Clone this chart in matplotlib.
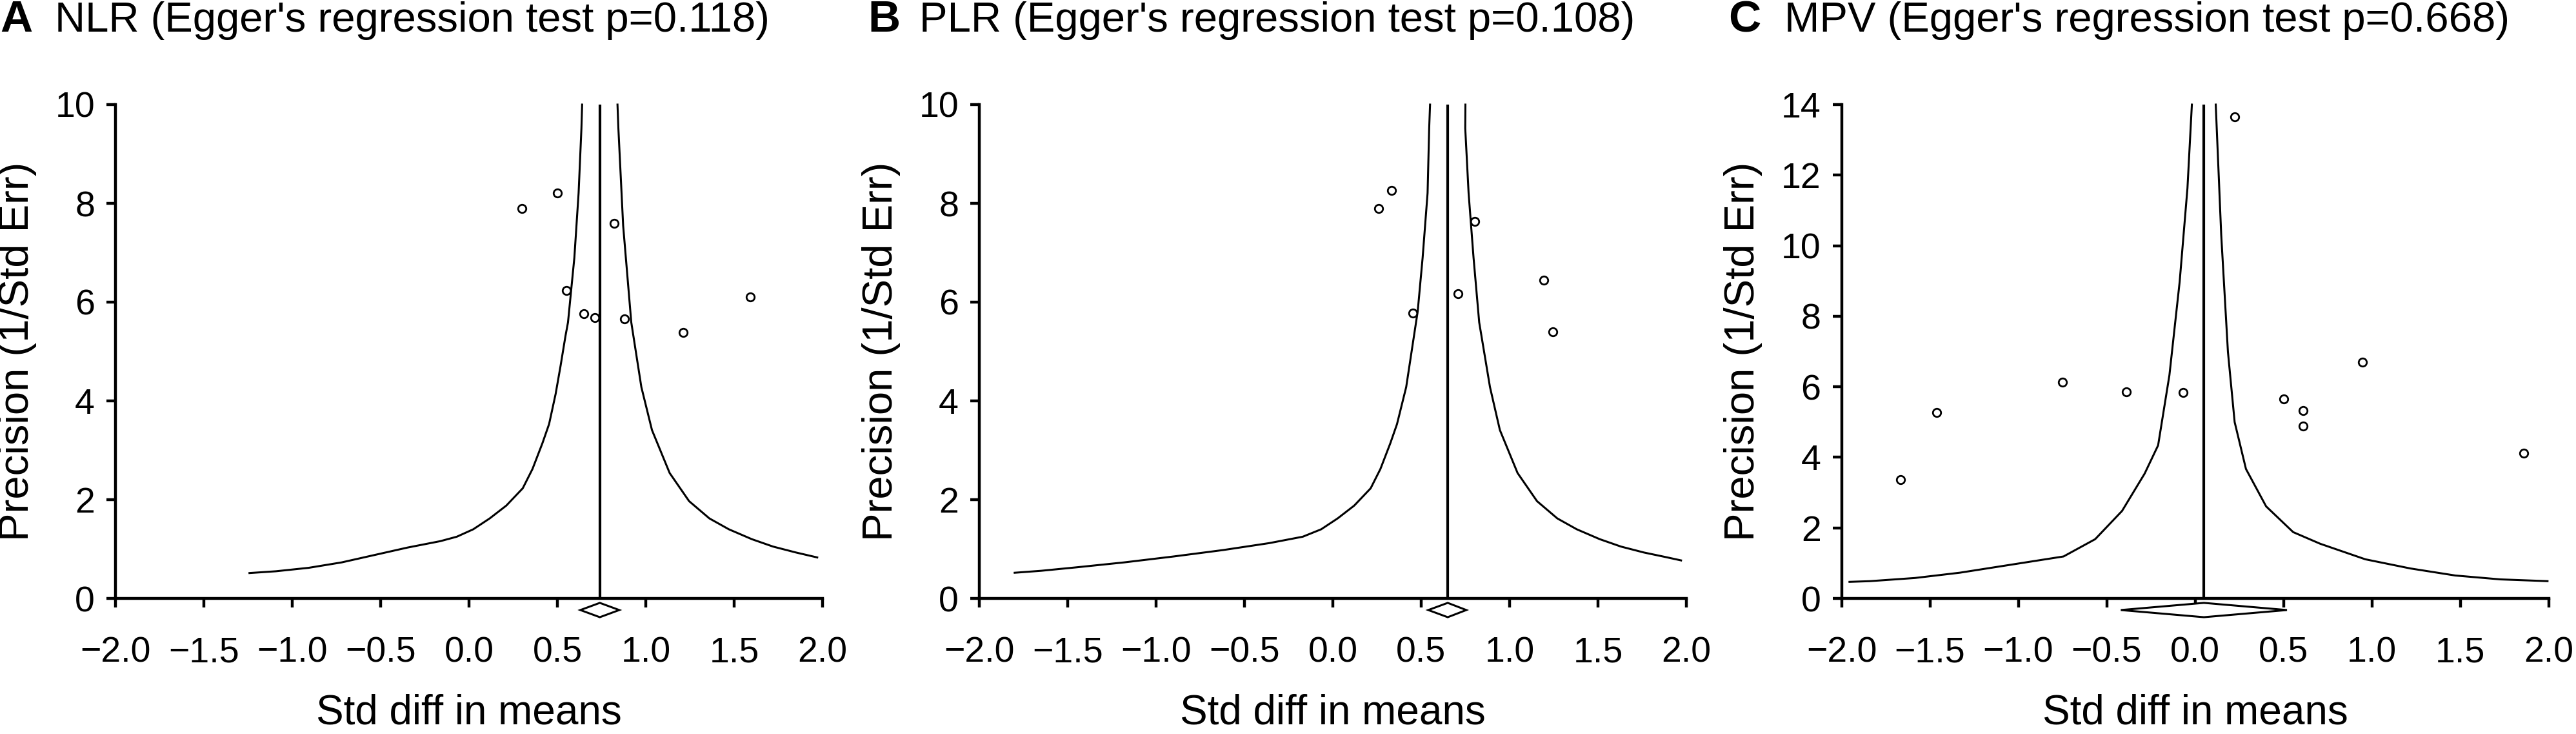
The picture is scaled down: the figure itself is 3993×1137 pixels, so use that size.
import numpy as np
import matplotlib
matplotlib.use("Agg")
import matplotlib.pyplot as plt
from matplotlib.patches import Polygon
from matplotlib.ticker import FuncFormatter

plt.rcParams['font.family'] = ['Liberation Sans', 'DejaVu Sans']

# A: NLR
nlr_x = [0.30, 0.50, 0.82, 0.55, 0.65, 0.71, 0.88, 1.21, 1.59]
nlr_y = [7.89, 8.21, 7.60, 6.24, 5.76, 5.69, 5.66, 5.39, 6.11]
nlr_pooled = [0.63, 0.74, 0.85]  # lower, estimate, upper
nlr_left_x = [0.64, 0.636, 0.620, 0.596, 0.560, 0.546, 0.518, 0.490, 0.453, 0.415, 0.359, 0.304,
              0.211, 0.117, 0.024, -0.069, -0.162, -0.348, -0.534, -0.720, -0.907, -1.093, -1.242]
nlr_left_y = [10.0, 9.52, 8.21, 6.90, 5.59, 5.32, 4.71, 4.14, 3.53, 3.14, 2.62, 2.23,
              1.88, 1.62, 1.40, 1.25, 1.16, 1.03, 0.88, 0.73, 0.62, 0.55, 0.514]
nlr_right_x = [0.84, 0.845, 0.872, 0.918, 0.975, 1.035, 1.135, 1.245, 1.36, 1.47, 1.60, 1.72, 1.85, 1.97]
nlr_right_y = [10.0, 9.52, 7.55, 5.59, 4.28, 3.41, 2.54, 1.97, 1.62, 1.40, 1.20, 1.05, 0.93, 0.83]

# B: PLR
plr_x = [0.331, 0.258, 0.802, 1.193, 0.709, 0.454, 1.243]
plr_y = [8.26, 7.89, 7.63, 6.44, 6.17, 5.78, 5.40]
plr_pooled = [0.54, 0.65, 0.755]
plr_left_x = [0.55, 0.545, 0.536, 0.508, 0.480, 0.415, 0.363, 0.325, 0.269, 0.214, 0.121, 0.027,
              -0.066, -0.17, -0.36, -0.62, -0.90, -1.18, -1.45, -1.65, -1.80]
plr_left_y = [10.0, 9.52, 8.21, 6.90, 5.81, 4.28, 3.53, 3.14, 2.62, 2.23,
              1.88, 1.62, 1.40, 1.25, 1.12, 0.98, 0.85, 0.73, 0.63, 0.56, 0.52]
plr_right_x = [0.75, 0.749, 0.768, 0.796, 0.828, 0.889, 0.945, 1.045, 1.155, 1.27, 1.38, 1.51, 1.63, 1.76, 1.88, 1.97]
plr_right_y = [10.0, 9.52, 8.21, 6.90, 5.59, 4.28, 3.41, 2.54, 1.97, 1.62, 1.40, 1.20, 1.05, 0.93, 0.84, 0.77]

# C: MPV
mpv_x = [0.224, -1.666, -1.462, -0.751, -0.387, -0.069, 0.502, 0.611, 0.611, 0.948, 1.859]
mpv_y = [13.66, 3.37, 5.27, 6.13, 5.86, 5.84, 5.65, 5.33, 4.88, 6.70, 4.11]
mpv_pooled = [-0.42, 0.05, 0.52]
mpv_left_x = [-0.018, -0.043, -0.087, -0.145, -0.209, -0.285, -0.413, -0.565, -0.744,
              -1.075, -1.33, -1.584, -1.839, -1.955]
mpv_left_y = [14.0, 11.63, 8.98, 6.33, 4.34, 3.54, 2.48, 1.68, 1.19,
              0.93, 0.73, 0.58, 0.49, 0.47]
mpv_right_x = [0.117, 0.148, 0.186, 0.224, 0.288, 0.402, 0.555, 0.708, 0.963, 1.218, 1.472, 1.727, 1.994]
mpv_right_y = [14.0, 10.31, 6.99, 5.0, 3.67, 2.61, 1.88, 1.55, 1.11, 0.85, 0.65, 0.54, 0.49]

letters = ['A', 'B', 'C']
titles = ["NLR (Egger's regression test p=0.118)",
          "PLR (Egger's regression test p=0.108)",
          "MPV (Egger's regression test p=0.668)"]
y_max = [10, 10, 14]
x_ticks = [-2.0, -1.5, -1.0, -0.5, 0.0, 0.5, 1.0, 1.5, 2.0]

W, H = 3993, 1137
fig = plt.figure(figsize=(W / 100, H / 100), dpi=100)

ax_left_px = [179, 1518, 2854.5]
ax_w_px = 1096
ax_top_px, ax_bot_px = 162, 927
letter_px = [0, 1345, 2679]
title_px = [85, 1425, 2766]

panels = [
    (nlr_x, nlr_y, nlr_pooled, nlr_left_x, nlr_left_y, nlr_right_x, nlr_right_y),
    (plr_x, plr_y, plr_pooled, plr_left_x, plr_left_y, plr_right_x, plr_right_y),
    (mpv_x, mpv_y, mpv_pooled, mpv_left_x, mpv_left_y, mpv_right_x, mpv_right_y),
]

minus_fmt = FuncFormatter(lambda v, pos: ('%.1f' % v).replace('-', '\u2212'))

for i, (px, py, pooled, lx, ly, rx, ry) in enumerate(panels):
    ax = fig.add_axes([ax_left_px[i] / W, 1 - ax_bot_px / H,
                       ax_w_px / W, (ax_bot_px - ax_top_px) / H])
    ymax = y_max[i]
    ax.set_xlim(-2, 2)
    ax.set_ylim(0, ymax)

    # funnel and pooled estimate line
    ax.plot(lx, ly, color='black', lw=2.2, solid_joinstyle='round', clip_on=False)
    ax.plot(rx, ry, color='black', lw=2.2, solid_joinstyle='round', clip_on=False)
    ax.plot([pooled[1], pooled[1]], [0, ymax], color='black', lw=3.0)

    # studies
    ax.plot(px, py, 'o', ms=9, mfc='white', mec='black', mew=2.0, clip_on=False, zorder=4)

    # pooled diamond just below the axis
    yc = -ymax * 0.0235
    hh = ymax * 0.0145
    diamond = Polygon([[pooled[0], yc], [pooled[1], yc + hh], [pooled[2], yc], [pooled[1], yc - hh]],
                      closed=True, facecolor='white', edgecolor='black', lw=2.2, clip_on=False, zorder=5)
    ax.add_patch(diamond)

    for s in ['top', 'right']:
        ax.spines[s].set_visible(False)
    for s in ['left', 'bottom']:
        ax.spines[s].set_linewidth(3.2)
    ax.set_xticks(x_ticks)
    ax.set_yticks(np.arange(0, ymax + 1, 2))
    ax.xaxis.set_major_formatter(minus_fmt)
    ax.tick_params(axis='both', direction='out', length=10, width=3.2, labelsize=40)
    ax.tick_params(axis='x', pad=32)
    ax.tick_params(axis='y', pad=13)

    # axis labels
    cx = (ax_left_px[i] + ax_w_px / 2) / W
    fig.text(cx, 1 - 1122 / H, 'Std diff in means', fontsize=46, ha='center', va='baseline')
    fig.text((ax_left_px[i] - 152) / W, 1 - ((ax_top_px + ax_bot_px) / 2) / H,
             'Precision (1/Std Err)', fontsize=47, rotation=90, ha='center', va='center')

    # panel titles
    fig.text(letter_px[i] / W, 1 - 49 / H, letters[i], fontsize=50, fontweight='bold',
             ha='left', va='baseline')
    fig.text(title_px[i] / W, 1 - 49 / H, titles[i], fontsize=47, ha='left', va='baseline')

fig.savefig('out.png', dpi=100, facecolor='white')
